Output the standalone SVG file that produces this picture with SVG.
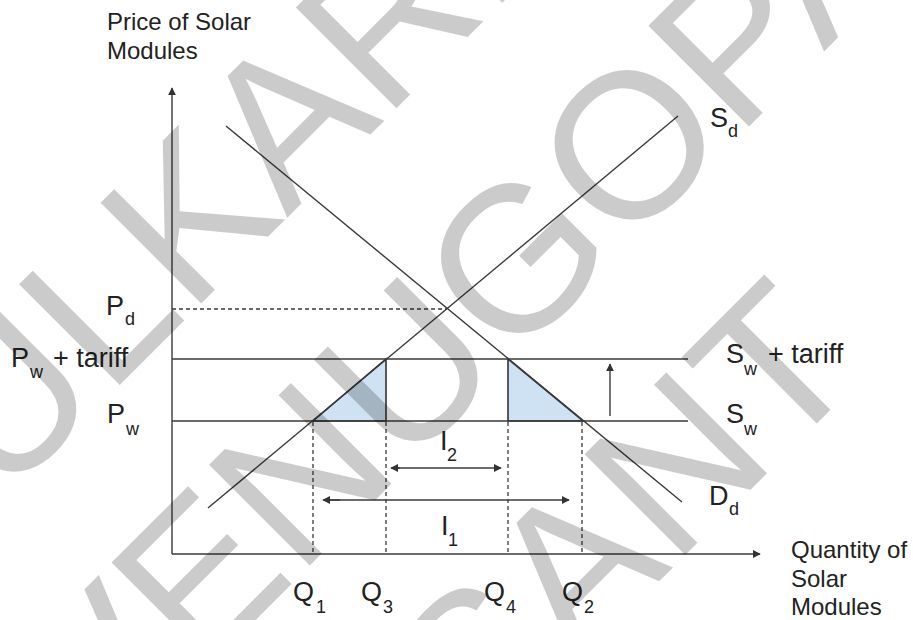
<svg xmlns="http://www.w3.org/2000/svg" width="913" height="620" viewBox="0 0 913 620">
<defs>
<marker id="ah" viewBox="0 0 10 10" refX="9" refY="5" markerWidth="8" markerHeight="8" markerUnits="userSpaceOnUse" orient="auto-start-reverse">
<path d="M0,0 L10,5 L0,10 z" fill="#333"/>
</marker>
<style>
.ln{stroke:#3a3a3a;stroke-width:1.4;fill:none}
.ds{stroke:#3a3a3a;stroke-width:1.3;fill:none;stroke-dasharray:4 3}
.tri{fill:#cfe2f3;stroke:#333;stroke-width:1.6;stroke-linejoin:miter}
text{font-family:"Liberation Sans",Arial,sans-serif;fill:#222}
.t{font-size:24px}
.m{font-size:27px}
.s{font-size:18px}
.wm{font-size:207px;fill:#000;opacity:0.2}
</style>
</defs>
<rect width="913" height="620" fill="#fff"/>

<g id="axes">
<line class="ln" x1="172" y1="554" x2="172" y2="88" marker-end="url(#ah)"/>
<line class="ln" x1="172" y1="554" x2="760" y2="554" marker-end="url(#ah)"/>
</g>

<g id="surplus-areas">
<polygon class="tri" points="313,421 386,421 386,359"/>
<polygon class="tri" points="508,359 508,421 583,421"/>
</g>

<g id="connectors">
<line class="ds" x1="172" y1="309" x2="447" y2="309"/>
<line class="ln" x1="172" y1="359" x2="688" y2="359"/>
<line class="ln" x1="172" y1="421" x2="688" y2="421"/>
<line class="ln" x1="226" y1="126" x2="682" y2="502"/>
<line class="ln" x1="208" y1="508" x2="678" y2="116"/>
<line class="ds" x1="313" y1="422" x2="313" y2="554"/>
<line class="ds" x1="386" y1="422" x2="386" y2="554"/>
<line class="ds" x1="508" y1="422" x2="508" y2="554"/>
<line class="ds" x1="582" y1="422" x2="582" y2="554"/>
<line class="ln" x1="400" y1="468" x2="391" y2="468" marker-end="url(#ah)"/>
<line class="ln" x1="395" y1="468" x2="501" y2="468" marker-end="url(#ah)"/>
<line class="ln" x1="340" y1="500" x2="323" y2="500" marker-end="url(#ah)"/>
<line class="ln" x1="330" y1="500" x2="569" y2="500" marker-end="url(#ah)"/>
<line class="ln" x1="610" y1="416" x2="610" y2="364" marker-end="url(#ah)"/>
</g>

<g id="axis-titles">
<text class="t" x="107" y="30">Price of Solar</text>
<text class="t" x="107" y="59">Modules</text>
<text class="t" x="791" y="558">Quantity of</text>
<text class="t" x="791" y="587">Solar</text>
<text class="t" x="791" y="615">Modules</text>
</g>

<g id="price-labels">
<text class="m" x="106" y="315">P</text><text class="s" x="125" y="325">d</text>
<text class="m" x="11" y="367">P</text><text class="s" x="30" y="378">w</text><text class="m" x="53" y="367">+ tariff</text>
<text class="m" x="107" y="423">P</text><text class="s" x="126" y="435">w</text>
</g>

<g id="quantity-labels">
<text class="m" x="293" y="601">Q</text><text class="s" x="316" y="613">1</text>
<text class="m" x="361" y="601">Q</text><text class="s" x="383" y="613">3</text>
<text class="m" x="484" y="601">Q</text><text class="s" x="506" y="613">4</text>
<text class="m" x="562" y="601">Q</text><text class="s" x="584" y="613">2</text>
<text class="m" x="440" y="450">I</text><text class="s" x="447" y="461">2</text>
<text class="m" x="441" y="535">I</text><text class="s" x="448" y="546">1</text>
</g>

<g id="curve-labels">
<text class="m" x="710" y="127">S</text><text class="s" x="728" y="137">d</text>
<text class="m" x="726" y="363">S</text><text class="s" x="744" y="375">w</text><text class="m" x="768" y="363">+ tariff</text>
<text class="m" x="726" y="423">S</text><text class="s" x="744" y="435">w</text>
<text class="m" x="709" y="505">D</text><text class="s" x="729" y="515">d</text>
</g>

<g id="watermark" transform="rotate(-45)">
<text class="wm" x="-492" y="357">KULKARNI</text>
<text class="wm" x="-474" y="619">VENUGOPAL</text>
<text class="wm" x="-201" y="877">SANT</text>
</g>
</svg>
